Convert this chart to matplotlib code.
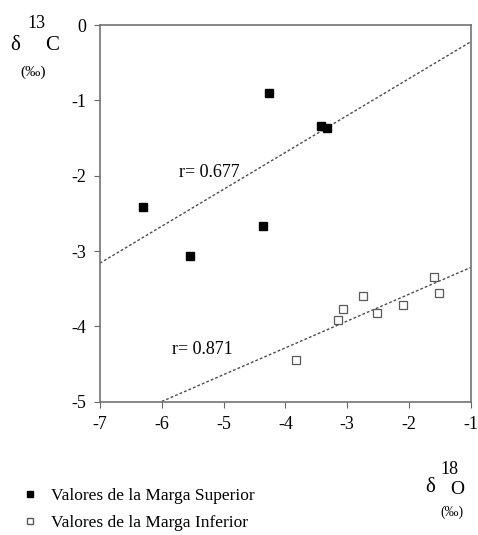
import matplotlib
matplotlib.use('Agg')
import matplotlib.pyplot as plt
import numpy as np
from matplotlib.lines import Line2D

plt.rcParams['font.family'] = ['Liberation Serif', 'DejaVu Serif']

# Marga Superior (filled squares)
sup_x = [-6.30, -5.54, -4.26, -3.43, -3.32, -4.36]
sup_y = [-2.41, -3.07, -0.90, -1.34, -1.37, -2.66]

# Marga Inferior (open squares)
inf_x = [-3.83, -3.15, -3.06, -2.74, -2.52, -2.09, -1.59, -1.51]
inf_y = [-4.45, -3.92, -3.77, -3.59, -3.82, -3.71, -3.35, -3.55]

# regression lines: (intercept, slope, x range)
fit_sup = (0.27, 0.49, -7.0, -1.0)
fit_inf = (-2.86, 0.356, -6.0, -1.0)

xticks = [-7, -6, -5, -4, -3, -2, -1]
yticks = [0, -1, -2, -3, -4, -5]

fig = plt.figure(figsize=(4.78, 5.35), dpi=100)
ax = fig.add_axes([0.209, 0.249, 0.776, 0.704])

for a, b, x0, x1 in (fit_sup, fit_inf):
    xx = np.array([x0, x1])
    ax.plot(xx, a + b * xx, color='0.3', lw=1.0, ls=(0, (2, 1.5)))

ax.plot(sup_x, sup_y, 's', color='black', ms=6, ls='none')
ax.plot(inf_x, inf_y, 's', mfc='white', mec='0.35', mew=0.9, ms=6, ls='none')

ax.text(-5.72, -1.96, 'r= 0.677', fontsize=13, va='center', ha='left')
ax.text(-5.83, -4.30, 'r= 0.871', fontsize=13, va='center', ha='left')

ax.set_xlim(-7, -1)
ax.set_ylim(-5, 0)
ax.set_xticks(xticks)
ax.set_yticks(yticks)
ax.set_xticklabels([str(t) for t in xticks])
ax.set_yticklabels([str(t) for t in yticks])
ax.tick_params(direction='out', length=4, width=0.8, color='0.4', labelsize=13, pad=6)
for s in ax.spines.values():
    s.set_color('0.45')
    s.set_linewidth(1.2)

# axis titles
fig.text(15 / 478, 1 - 45 / 535, 'δ', fontsize=15, ha='center', va='center')
fig.text(36 / 478, 1 - 23 / 535, '13', fontsize=13, ha='center', va='center')
fig.text(52 / 478, 1 - 45 / 535, 'C', fontsize=15, ha='center', va='center')
fig.text(33 / 478, 1 - 72 / 535, '(‰)', fontsize=11, ha='center', va='center')

fig.text(430 / 478, 1 - 488 / 535, 'δ', fontsize=15, ha='center', va='center')
fig.text(449 / 478, 1 - 469 / 535, '18', fontsize=13, ha='center', va='center')
fig.text(457 / 478, 1 - 490 / 535, 'O', fontsize=14, ha='center', va='center')
fig.text(452 / 478, 1 - 512 / 535, '(‰)', fontsize=10, ha='center', va='center')

# legend
handles = [
    Line2D([], [], marker='s', color='black', ms=4, ls='none'),
    Line2D([], [], marker='s', mfc='white', mec='0.35', ms=4, ls='none'),
]
labels = ['Valores de la Marga Superior', 'Valores de la Marga Inferior']
fig.legend(handles, labels, loc='upper left', bbox_to_anchor=(0.03, 1 - 481 / 535),
           frameon=False, fontsize=12.5, handletextpad=0.7, handlelength=1.0,
           labelspacing=0.6, borderaxespad=0)

fig.savefig('out.png', dpi=100)
